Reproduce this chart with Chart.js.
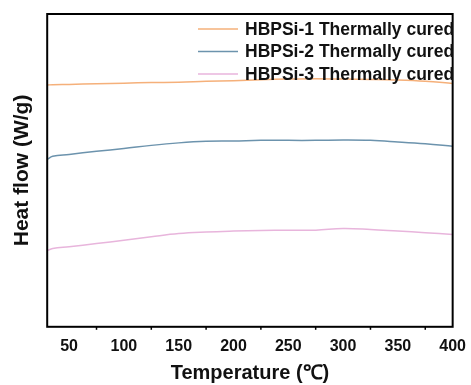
<!DOCTYPE html>
<html>
<head>
<meta charset="utf-8">
<script src="https://cdn.jsdelivr.net/npm/chart.js@4/dist/chart.umd.min.js"></script>
<style>
  html, body { margin: 0; padding: 0; background: #fff; }
  #wrap { width: 471px; height: 385px; position: relative; }
</style>
</head>
<body>
<div id="wrap"><canvas id="myChart" width="471" height="385"></canvas></div>
<script>
// temperature (C) and relative heat flow (arbitrary, no y labels in the figure)
var temps = [30, 35, 50, 75, 100, 125, 150, 175, 200, 225, 250, 275, 300, 325, 350, 375, 400];
var hbpsi1 = [7.73, 7.74, 7.75, 7.77, 7.79, 7.81, 7.82, 7.85, 7.87, 7.90, 7.92, 7.93, 7.92, 7.91, 7.89, 7.85, 7.78];
var hbpsi2 = [5.35, 5.45, 5.51, 5.61, 5.70, 5.80, 5.88, 5.93, 5.94, 5.96, 5.96, 5.96, 5.97, 5.96, 5.91, 5.85, 5.77];
var hbpsi3 = [2.44, 2.50, 2.56, 2.66, 2.77, 2.88, 2.98, 3.03, 3.06, 3.08, 3.09, 3.09, 3.14, 3.11, 3.06, 3.01, 2.95];
var seriesNames = ['HBPSi-1 Thermally cured', 'HBPSi-2 Thermally cured', 'HBPSi-3 Thermally cured'];
var seriesColors = ['#f5b07a', '#6c93ad', '#e8b5dc'];
var xTicks = [50, 100, 150, 200, 250, 300, 350, 400];

function toPoints(ys) {
  var pts = [];
  for (var i = 0; i < temps.length; i++) {
    pts.push({x: temps[i], y: ys[i]});
  }
  return pts;
}

var allSeries = [hbpsi1, hbpsi2, hbpsi3];
var datasets = [];
for (var i = 0; i < allSeries.length; i++) {
  datasets.push({
    label: seriesNames[i],
    data: toPoints(allSeries[i]),
    borderColor: seriesColors[i],
    borderWidth: 1.5,
    pointRadius: 0,
    tension: 0.4,
    fill: false
  });
}

var FONT = '"Liberation Sans", Arial, sans-serif';

// legend drawn inside plot, top-right
var insideLegend = {
  id: 'insideLegend',
  afterDraw: function(chart) {
    var ctx = chart.ctx;
    var area = chart.chartArea;
    ctx.save();
    ctx.font = 'bold 17.5px ' + FONT;
    ctx.textBaseline = 'middle';
    ctx.textAlign = 'left';
    for (var i = 0; i < chart.data.datasets.length; i++) {
      var ds = chart.data.datasets[i];
      var y = area.top + 15 + i * 22.5;
      ctx.strokeStyle = ds.borderColor;
      ctx.lineWidth = 1.5;
      ctx.beginPath();
      ctx.moveTo(198, y);
      ctx.lineTo(238, y);
      ctx.stroke();
      ctx.fillStyle = '#111';
      ctx.fillText(ds.label, 245, y + 1);
    }
    ctx.restore();
  }
};

// black frame around plot
var frame = {
  id: 'frame',
  afterDatasetsDraw: function(chart) {
    var ctx = chart.ctx;
    var a = chart.chartArea;
    ctx.save();
    ctx.strokeStyle = '#000';
    ctx.lineWidth = 2;
    ctx.strokeRect(a.left, a.top, a.right - a.left, a.bottom - a.top);
    // minor ticks at 75, 125 ...
    var xs = chart.scales.x;
    ctx.lineWidth = 1.5;
    for (var t = 75; t < 400; t += 50) {
      var px = xs.getPixelForValue(t);
      ctx.beginPath();
      ctx.moveTo(px, a.bottom);
      ctx.lineTo(px, a.bottom + 3);
      ctx.stroke();
    }
    ctx.restore();
  }
};

var ctx = document.getElementById('myChart').getContext('2d');
var myChart = new Chart(ctx, {
  type: 'line',
  data: { datasets: datasets },
  options: {
    responsive: false,
    animation: false,
    layout: { padding: { left: 4, right: 18, top: 14, bottom: 0 } },
    plugins: { legend: { display: false }, tooltip: { enabled: false } },
    scales: {
      x: {
        type: 'linear',
        min: 30,
        max: 400,
        afterBuildTicks: function(axis) {
          axis.ticks = xTicks.map(function(v) { return {value: v}; });
        },
        grid: { display: false, drawOnChartArea: false, drawTicks: true, tickLength: 5, tickWidth: 1.5, tickColor: '#000' },
        border: { display: false },
        ticks: { color: '#111', font: { size: 16, weight: 'bold', family: FONT }, padding: 5, maxRotation: 0 },
        title: { display: true, text: 'Temperature (℃)', color: '#111', font: { size: 20, weight: 'bold', family: FONT }, padding: { top: 0, bottom: 0 } }
      },
      y: {
        min: 0,
        max: 10,
        grid: { display: false },
        border: { display: false },
        ticks: { display: false },
        title: { display: true, text: 'Heat flow (W/g)', color: '#111', font: { size: 21, weight: 'bold', family: FONT }, padding: { top: 6, bottom: 4 } }
      }
    }
  },
  plugins: [frame, insideLegend]
});
</script>
</body>
</html>
